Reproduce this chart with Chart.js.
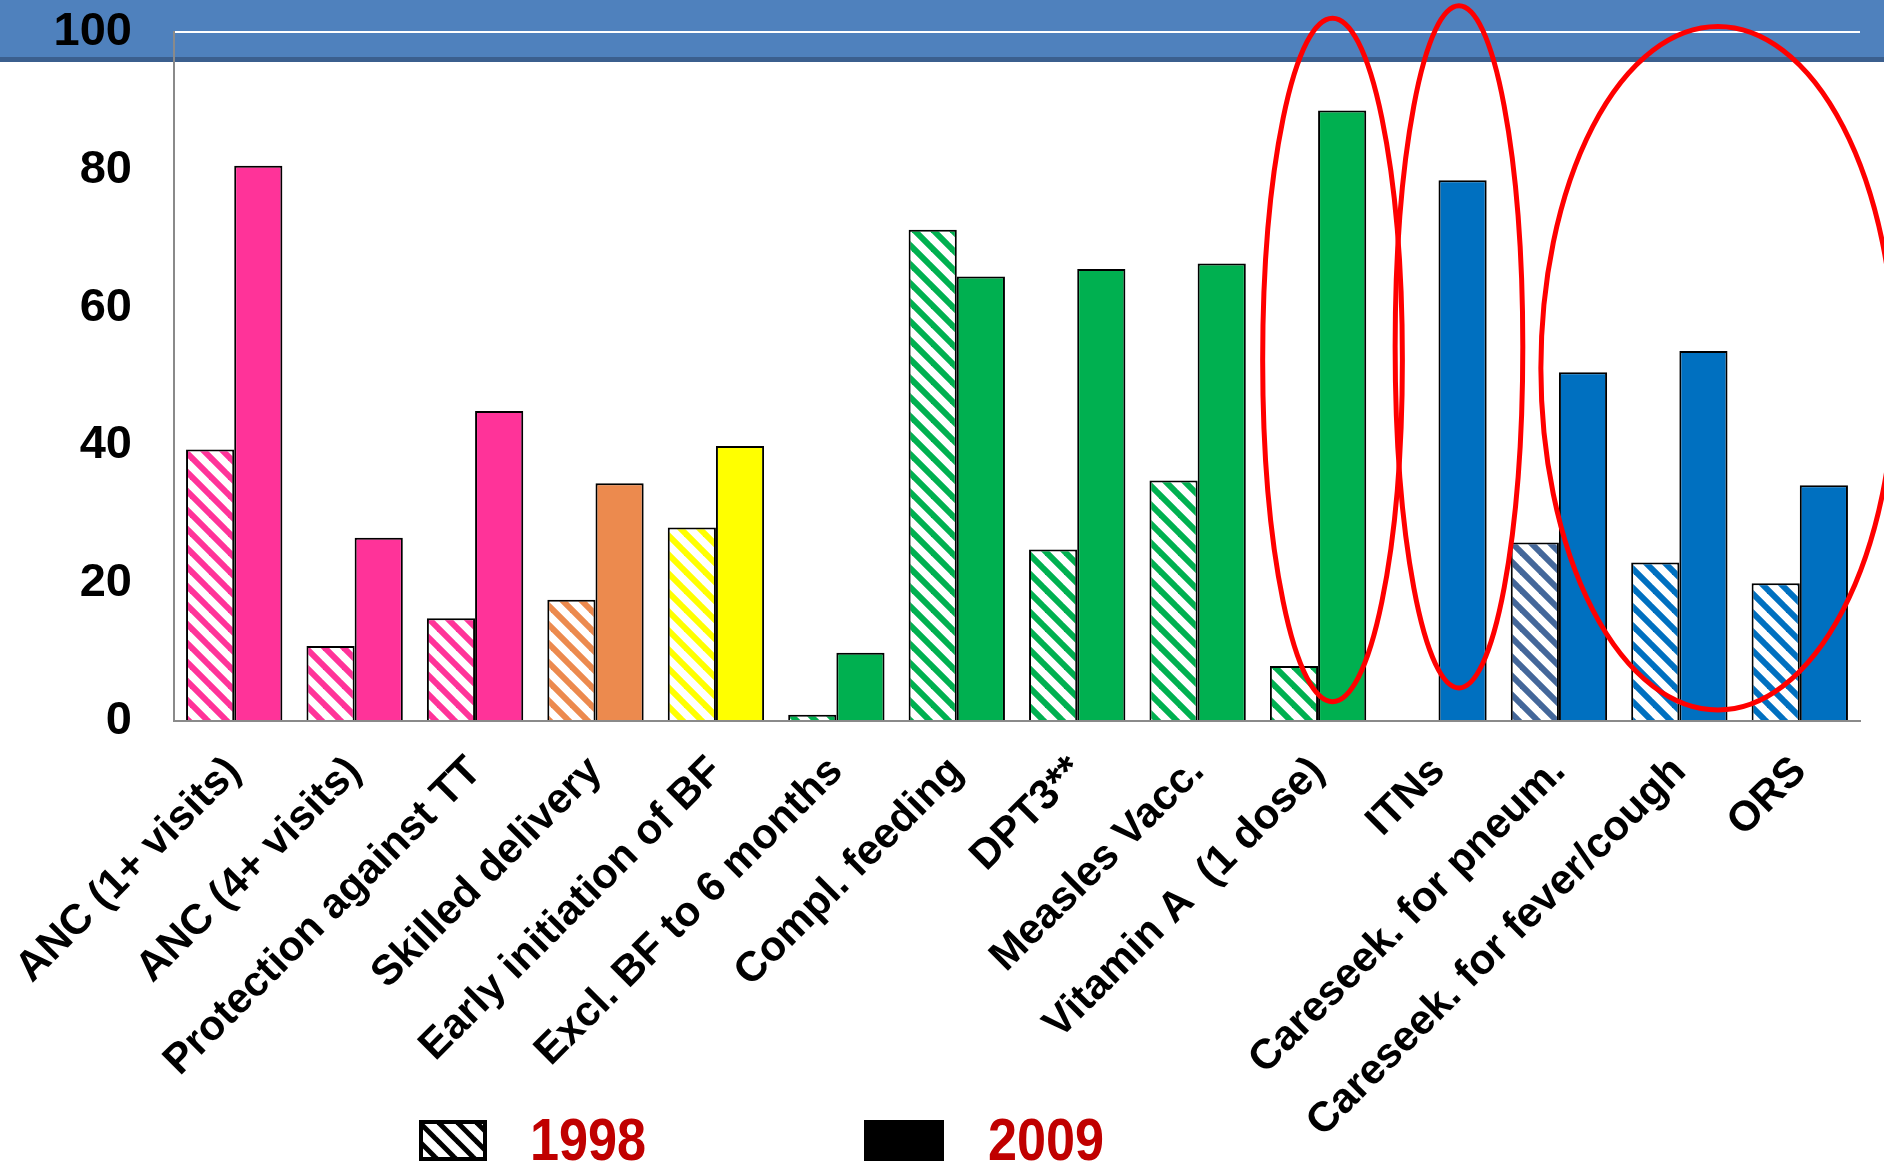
<!doctype html>
<html lang="en">
  <head>
    <meta charset="UTF-8">
    <title>Coverage 1998 vs 2009</title>
    <style>
      html, body { margin: 0; padding: 0; background: #fff; }
      #wrap { width: 1884px; height: 1167px; }
    </style>
  </head>
  <body>
    <div id="wrap"><canvas id="myChart" width="1884" height="1167"></canvas></div>

    <script src="https://cdn.jsdelivr.net/npm/chart.js@4.4.1/dist/chart.umd.min.js"></script>
    <script>
    // Data-----
    const categories = [
      'ANC (1+ visits)', 'ANC (4+ visits)', 'Protection against TT', 'Skilled delivery',
      'Early initiation of BF', 'Excl. BF to 6 months', 'Compl. feeding', 'DPT3**',
      'Measles Vacc.', 'Vitamin A  (1 dose)', 'ITNs', 'Careseek. for pneum.',
      'Careseek. for fever/cough', 'ORS'
    ];
    const values1998 = [39.4, 10.9, 14.9, 17.6, 28.1, 0.9, 71.3, 24.9, 34.9, 8.0, null, 25.9, 23.0, 20.0];
    const values2009 = [80.6, 26.6, 45.0, 34.5, 39.9, 9.9, 64.5, 65.6, 66.4, 88.6, 78.5, 50.6, 53.7, 34.2];
    const yTicks = [0, 20, 40, 60, 80, 100];
    const seriesLabels = ['1998', '2009'];
    // Data-----

    // Styles-----
    const barColors = [
      '#FF3399', '#FF3399', '#FF3399', '#EC8A4E', '#FFFF00', '#00B050', '#00B050',
      '#00B050', '#00B050', '#00B050', '#0070C0', '#0070C0', '#0070C0', '#0070C0'
    ];
    const hatchColors = barColors.slice();
    hatchColors[11] = '#44679A';
    const FONT = '"Liberation Sans", Arial, sans-serif';

    // diagonal "\\\" stripes on white
    function makeHatch(color, size, width) {
        const c = document.createElement('canvas');
        c.width = size; c.height = size;
        const g = c.getContext('2d');
        g.fillStyle = '#fff';
        g.fillRect(0, 0, size, size);
        g.strokeStyle = color;
        g.lineWidth = width;
        for (const x0 of [-size, 0, size]) {
            g.beginPath();
            g.moveTo(x0 - size, -size);
            g.lineTo(x0 + 2 * size, 2 * size);
            g.stroke();
        }
        return g.createPattern(c, 'repeat');
    }
    const hatchFills = hatchColors.map(c => makeHatch(c, 19, 6));
    // Styles-----

    // Plugins-----
    const banner = {
        id: 'banner',
        beforeDraw(chart) {
            const ctx = chart.ctx;
            ctx.save();
            ctx.fillStyle = '#4F81BD';
            ctx.fillRect(0, 0, chart.width, 57);
            ctx.fillStyle = '#3B5F8E';
            ctx.fillRect(0, 57, chart.width, 5);
            ctx.restore();
        }
    };

    // red ellipses, in category index / value units
    const rings = [
        {x: 9.12, y: 52.4, rx: 0.58, ry: 49.6},
        {x: 10.17, y: 54.3, rx: 0.53, ry: 49.5},
        {x: 12.32, y: 51.2, rx: 1.47, ry: 49.6}
    ];
    const ellipses = {
        id: 'ellipses',
        afterDatasetsDraw(chart) {
            const {ctx, scales: {x, y}} = chart;
            const cw = x.getPixelForValue(1) - x.getPixelForValue(0);
            const vh = y.getPixelForValue(0) - y.getPixelForValue(1);
            ctx.save();
            ctx.strokeStyle = '#FF0000';
            ctx.lineWidth = 5;
            rings.forEach(r => {
                ctx.beginPath();
                ctx.ellipse(x.getPixelForValue(r.x), y.getPixelForValue(r.y), r.rx * cw, r.ry * vh, 0, 0, Math.PI * 2);
                ctx.stroke();
            });
            ctx.restore();
        }
    };

    const bottomLegend = {
        id: 'bottomLegend',
        afterDraw(chart) {
            const ctx = chart.ctx;
            ctx.save();
            // hatched box
            ctx.fillStyle = makeHatch('#000', 19, 5);
            ctx.fillRect(421, 1122, 64, 37);
            ctx.lineWidth = 4;
            ctx.strokeStyle = '#000';
            ctx.strokeRect(421, 1122, 64, 37);
            // solid box
            ctx.fillStyle = '#000';
            ctx.fillRect(864, 1120, 80, 41);
            ctx.fillStyle = '#C00000';
            ctx.font = 'bold 60px ' + FONT;
            ctx.textBaseline = 'alphabetic';
            [[530, seriesLabels[0]], [988, seriesLabels[1]]].forEach(([tx, t]) => {
                ctx.save();
                ctx.translate(tx, 1160);
                ctx.scale(0.87, 1);
                ctx.fillText(t, 0, 0);
                ctx.restore();
            });
            ctx.restore();
        }
    };
    // Plugins-----

    // Config-----
    const config = {
        type: 'bar',
        data: {
            labels: categories,
            datasets: [{
                label: seriesLabels[0],
                data: values1998,
                backgroundColor: hatchFills,
                borderColor: '#000',
                borderWidth: 2,
                categoryPercentage: 0.8,
                barPercentage: 1.0
            },
            {
                label: seriesLabels[1],
                data: values2009,
                backgroundColor: barColors,
                borderColor: '#000',
                borderWidth: 2,
                categoryPercentage: 0.8,
                barPercentage: 1.0
            }]
        },
        options: {
            responsive: false,
            animation: false,
            layout: {
                padding: {left: 0, right: 24, top: 32, bottom: 0}
            },
            plugins: {
                legend: {display: false},
                tooltip: {enabled: false}
            },
            scales: {
                x: {
                    grid: {display: false, drawTicks: false},
                    border: {display: true, color: '#8A8A8A', width: 2},
                    ticks: {
                        color: '#000',
                        font: {family: FONT, size: 42, weight: 'bold'},
                        minRotation: 45,
                        maxRotation: 45,
                        autoSkip: false,
                        padding: 26
                    },
                    afterFit(scale) {
                        scale.height = 446;
                        scale.paddingLeft = 0;
                        scale.paddingRight = 0;
                    }
                },
                y: {
                    min: 0,
                    max: 100,
                    afterBuildTicks(scale) { scale.ticks = yTicks.map(v => ({value: v})); },
                    grid: {
                        drawTicks: false,
                        lineWidth: 2,
                        color: (ctx) => ctx.tick && ctx.tick.value === 100 ? '#FFFFFF' : 'rgba(0,0,0,0)'
                    },
                    border: {display: true, color: '#8A8A8A', width: 2},
                    ticks: {
                        color: '#000',
                        font: {family: FONT, size: 47, weight: 'bold'},
                        padding: 42
                    },
                    afterFit(scale) {
                        scale.width = 174;
                        scale.paddingTop = 0;
                        scale.paddingBottom = 0;
                    }
                }
            }
        },
        plugins: [banner, ellipses, bottomLegend]
    };
    // Config-----

    var myChart = new Chart(
        document.getElementById('myChart'),
        config
    );
    </script>
  </body>
</html>
